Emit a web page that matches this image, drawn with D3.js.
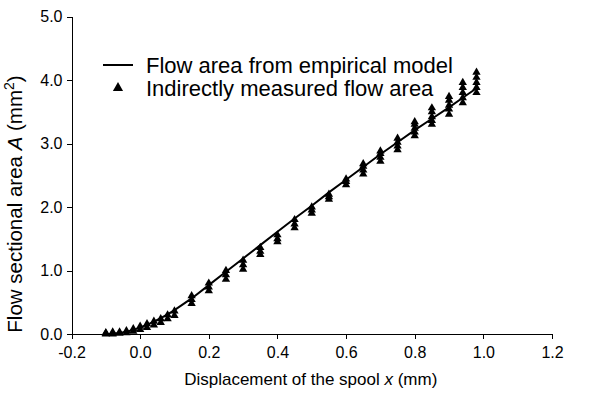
<!DOCTYPE html>
<meta charset="utf-8">
<title>Flow area vs spool displacement</title>
<style>
body { margin: 0; background: #fff; }
svg text { font-family: "Liberation Sans", Arial, sans-serif; fill: #000; }
.axis path, .axis line { fill: none; stroke: #000; stroke-width: 1; shape-rendering: crispEdges; }
.axis text { font-size: 16px; }
</style>
<body>
<svg id="chart" width="599" height="394"></svg>
<script src="https://d3js.org/d3.v7.min.js"></script>
<script>

// spool positions where the flow area was measured (mm)
var stackX = [-0.1, -0.08, -0.06, -0.04, -0.02, 0.0, 0.02, 0.04, 0.06, 0.08, 0.1,
  0.15, 0.2, 0.25, 0.3, 0.35, 0.4, 0.45, 0.5, 0.55, 0.6, 0.65, 0.7, 0.75,
  0.8, 0.85, 0.9, 0.94, 0.98];

// indirectly measured flow area at each position (mm^2)
var measured = [
  [0.0, 0.01, 0.02], [0.0, 0.01, 0.03], [0.01, 0.03], [0.02, 0.05], [0.04, 0.08],
  [0.07, 0.12], [0.1, 0.16], [0.14, 0.2], [0.18, 0.24], [0.24, 0.3], [0.29, 0.36],
  [0.48, 0.54, 0.6], [0.68, 0.74, 0.8], [0.86, 0.93, 1.0], [1.02, 1.09, 1.16],
  [1.25, 1.3, 1.36], [1.45, 1.5, 1.56], [1.67, 1.73, 1.8], [1.9, 1.95, 2.0],
  [2.12, 2.16, 2.2], [2.35, 2.4, 2.44], [2.52, 2.58, 2.64, 2.68],
  [2.72, 2.78, 2.84, 2.88], [2.9, 2.96, 3.02, 3.08], [3.12, 3.18, 3.24, 3.3, 3.34],
  [3.3, 3.36, 3.42, 3.5, 3.56], [3.46, 3.54, 3.6, 3.68, 3.74],
  [3.64, 3.72, 3.8, 3.88, 3.96], [3.8, 3.88, 3.96, 4.04, 4.12]
];

// empirical model curve
var modelX = [-0.1, -0.08, -0.06, -0.04, -0.02, 0.0, 0.02, 0.04, 0.06, 0.08, 0.1,
  0.15, 0.2, 0.25, 0.3, 0.35, 0.4, 0.45, 0.5, 0.55, 0.6, 0.65, 0.7, 0.75,
  0.8, 0.85, 0.9, 0.94, 0.98];
var modelA = [0.0, 0.005, 0.015, 0.035, 0.065, 0.1, 0.145, 0.195, 0.25, 0.31, 0.375,
  0.56, 0.77, 0.98, 1.19, 1.4, 1.61, 1.82, 2.02, 2.23, 2.43, 2.63, 2.83, 3.02,
  3.21, 3.39, 3.57, 3.72, 3.87];

var xTicks = [-0.2, 0.0, 0.2, 0.4, 0.6, 0.8, 1.0, 1.2];
var yTicks = [0.0, 1.0, 2.0, 3.0, 4.0, 5.0];

var legendLabels = ["Flow area from empirical model", "Indirectly measured flow area"];

var margin = {top: 16.5, right: 47, bottom: 60, left: 71.5},
    width = 599 - margin.left - margin.right,
    height = 394 - margin.top - margin.bottom;

var svg = d3.select("#chart")
  .append("g")
    .attr("transform", "translate(" + margin.left + "," + margin.top + ")");

var x = d3.scaleLinear().domain([-0.2, 1.2]).range([0, width]);
var y = d3.scaleLinear().domain([0, 5]).range([height, 0]);

var fmt = function(d) { return d3.format(".1f")(d).replace("\u2212", "-"); };

svg.append("g")
    .attr("class", "x axis")
    .attr("transform", "translate(0," + height + ")")
    .call(d3.axisBottom(x).tickValues(xTicks).tickFormat(fmt).tickSize(5).tickSizeOuter(0))
  .selectAll("text")
    .attr("dy", "1.0em");

svg.append("g")
    .attr("class", "y axis")
    .call(d3.axisLeft(y).tickValues(yTicks).tickFormat(fmt).tickSize(5).tickSizeOuter(0))
  .selectAll("text")
    .attr("x", -9);

// axis titles
var xt = svg.append("text")
    .attr("x", x(0.5) - 1)
    .attr("y", height + 51)
    .attr("text-anchor", "middle")
    .style("font-size", "17px");
xt.append("tspan").text("Displacement of the spool ");
xt.append("tspan").style("font-style", "italic").text("x");
xt.append("tspan").text("  (mm)");

var yt = svg.append("text")
    .attr("transform", "translate(-50," + (204 - margin.top) + ") rotate(-90)")
    .attr("text-anchor", "middle")
    .style("font-size", "20.5px");
yt.append("tspan").text("Flow sectional area ");
yt.append("tspan").style("font-style", "italic").text("A");
yt.append("tspan").text("  (mm");
yt.append("tspan").attr("dy", -8).style("font-size", "14px").text("2");
yt.append("tspan").attr("dy", 8).text(")");

// model line
var line = d3.line()
    .x(function(d) { return x(d[0]); })
    .y(function(d) { return y(d[1]); });

svg.append("path")
    .datum(d3.zip(modelX, modelA))
    .attr("fill", "none")
    .attr("stroke", "#000")
    .attr("stroke-width", 2)
    .attr("d", line);

// measured points
var points = [];
stackX.forEach(function(sx, i) {
  measured[i].forEach(function(v) { points.push({x: sx, a: v}); });
});

var tri = d3.symbol().type(d3.symbolTriangle).size(30);

svg.selectAll(".dot")
    .data(points)
  .enter().append("path")
    .attr("class", "dot")
    .attr("d", tri)
    .attr("fill", "#000")
    .attr("transform", function(d) { return "translate(" + x(d.x) + "," + y(d.a) + ")"; });

// legend
var legend = svg.append("g")
    .attr("transform", "translate(" + (103 - margin.left) + "," + (65 - margin.top) + ")");

legend.append("line")
    .attr("x1", 0).attr("x2", 30)
    .attr("y1", 0).attr("y2", 0)
    .attr("stroke", "#000")
    .attr("stroke-width", 2);

legend.append("path")
    .attr("d", d3.symbol().type(d3.symbolTriangle).size(45))
    .attr("transform", "translate(15,23)");

legend.selectAll(".ltext")
    .data(legendLabels)
  .enter().append("text")
    .attr("class", "ltext")
    .attr("x", 43)
    .attr("y", function(d, i) { return i * 23; })
    .attr("dy", "0.35em")
    .style("font-size", "22px")
    .text(function(d) { return d; });

</script>
</body>
